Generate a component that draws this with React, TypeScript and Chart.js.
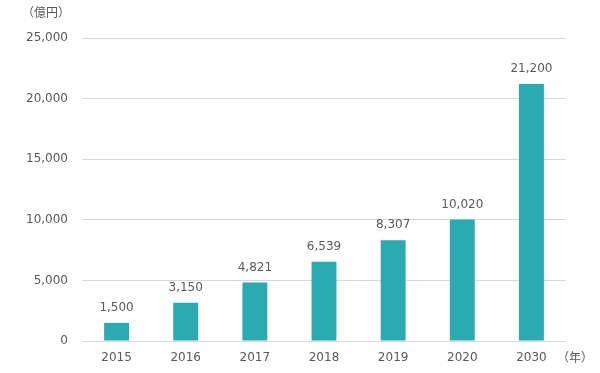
import React, { useEffect, useRef } from "react";
import { Chart, registerables } from "chart.js";

Chart.register(...registerables);

const categories = ["2015", "2016", "2017", "2018", "2019", "2020", "2030"];
const values = [1500, 3150, 4821, 6539, 8307, 10020, 21200];
const yUnit = "（億円）";
const xUnit = "（年）";

const FONT = "'DejaVu Sans', Verdana, sans-serif";
const CJK = "'Noto Sans CJK JP', sans-serif";
const TEXT = "#595959";

export default function App() {
  const ref = useRef<HTMLCanvasElement | null>(null);
  useEffect(() => {
    document.body.style.margin = "0";
    const labelPlugin = {
      id: "labels",
      afterDatasetsDraw(chart: any) {
        const ctx = chart.ctx;
        const meta = chart.getDatasetMeta(0);
        ctx.save();
        ctx.fillStyle = TEXT;
        ctx.font = `12px ${FONT}`;
        ctx.textAlign = "center";
        ctx.textBaseline = "bottom";
        meta.data.forEach((el: any, i: number) => {
          ctx.fillText(values[i].toLocaleString("en-US"), el.x, el.y - 9);
        });
        ctx.textBaseline = "middle";
        ctx.font = `12px ${CJK}`;
        ctx.fillText(yUnit, 46, 12);
        ctx.fillText(xUnit, 575, 357);
        ctx.restore();
      },
    };
    const chart = new Chart(ref.current!, {
      type: "bar",
      data: {
        labels: categories,
        datasets: [
          {
            data: values,
            backgroundColor: "#2BAAB1",
            barPercentage: 0.36,
            categoryPercentage: 1,
          },
        ],
      },
      options: {
        responsive: false,
        animation: false,
        layout: { padding: { top: 38, right: 34, left: 0, bottom: 0 } },
        plugins: { legend: { display: false }, tooltip: { enabled: false } },
        scales: {
          x: {
            grid: { display: false, drawTicks: false },
            border: { display: false },
            ticks: { color: TEXT, font: { family: FONT, size: 12 }, padding: 10 },
            afterFit: (s: any) => {
              s.height = 32;
            },
          },
          y: {
            min: 0,
            max: 25000,
            grid: { color: "#D9D9D9", drawTicks: false },
            border: { display: false },
            ticks: {
              stepSize: 5000,
              color: TEXT,
              font: { family: FONT, size: 12 },
              padding: 14,
              callback: (v: any) => Number(v).toLocaleString("en-US"),
            },
            afterFit: (s: any) => {
              s.width = 82;
            },
          },
        },
      },
      plugins: [labelPlugin],
    });
    return () => chart.destroy();
  }, []);
  return (
    <div style={{ width: 600, height: 373 }}>
      <canvas ref={ref} width={600} height={373} />
    </div>
  );
}
